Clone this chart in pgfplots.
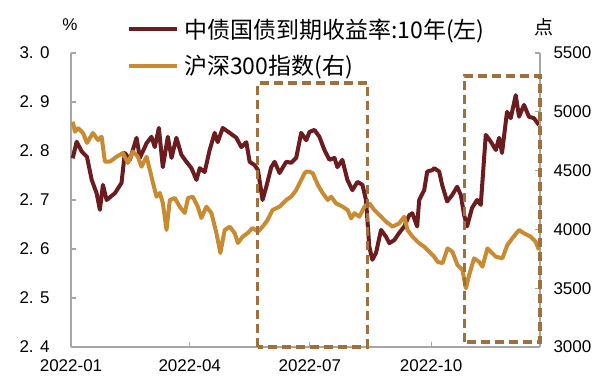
\documentclass[border=0pt]{standalone}
\usepackage{fontspec}
\setmainfont{Liberation Sans}
\newfontfamily\cjk{Noto Sans CJK SC}
\usepackage{pgfplots}
\usepackage{pgfplotstable}
\pgfplotsset{compat=1.18}
\definecolor{bondred}{HTML}{6B1C1E}
\definecolor{csiorange}{HTML}{C98B32}
\definecolor{boxbrown}{HTML}{A0703C}
\definecolor{axisgrey}{HTML}{A6A6A6}

\pgfplotstableread{
day yld
1.3 2.785
4.3 2.819
8.1 2.799
12.1 2.788
15.7 2.741
19.4 2.714
21.9 2.680
24.2 2.731
27.0 2.700
33.3 2.714
38.3 2.735
40.8 2.796
44.6 2.782
49.7 2.827
52.2 2.786
57.3 2.816
61.0 2.829
63.5 2.808
66.6 2.847
69.6 2.767
73.4 2.829
76.2 2.786
79.9 2.827
83.7 2.792
87.5 2.778
91.3 2.765
95.1 2.741
97.6 2.765
101.3 2.757
105.1 2.802
108.9 2.837
111.2 2.818
115.0 2.847
120.3 2.837
125.3 2.827
129.1 2.808
132.9 2.818
135.4 2.778
139.2 2.771
141.7 2.761
145.2 2.700
148.0 2.727
151.8 2.767
154.3 2.778
158.1 2.755
163.1 2.778
166.9 2.776
170.7 2.786
174.5 2.837
178.3 2.822
180.8 2.839
184.5 2.843
188.3 2.829
192.1 2.802
195.9 2.782
199.7 2.786
201.9 2.767
205.7 2.782
209.5 2.741
213.3 2.720
217.1 2.737
220.9 2.731
223.6 2.700
226.1 2.605
228.4 2.578
231.2 2.592
235.0 2.639
238.8 2.625
241.3 2.612
245.0 2.618
248.8 2.633
252.6 2.646
256.4 2.669
258.7 2.673
262.4 2.646
263.9 2.700
267.7 2.720
270.0 2.758
273.8 2.761
275.3 2.765
279.1 2.758
281.3 2.731
285.1 2.697
288.9 2.710
292.7 2.727
295.5 2.710
298.0 2.669
300.2 2.646
304.0 2.684
307.8 2.700
310.6 2.690
314.4 2.833
318.2 2.819
322.0 2.802
324.5 2.827
326.7 2.796
330.5 2.880
333.3 2.867
337.1 2.914
339.6 2.870
343.4 2.894
347.1 2.870
350.9 2.867
354.7 2.853
}\yieldtable

\pgfplotstableread{
day csi
1.3 4916
3.0 4831
5.5 4860
9.1 4820
12.1 4735
16.6 4820
20.4 4760
23.2 4788
25.7 4576
29.5 4576
34.6 4618
39.3 4650
43.1 4565
46.9 4661
50.7 4618
53.4 4533
57.3 4618
61.0 4448
64.8 4278
67.3 4310
69.6 4225
72.4 3995
74.9 4250
78.7 4267
82.4 4193
86.2 4140
88.7 4267
92.3 4278
96.1 4193
98.8 4097
102.6 4193
106.4 4140
110.2 3969
113.2 3799
116.5 3995
120.3 4023
124.0 3969
126.5 3884
130.1 3938
133.9 3969
137.6 4012
141.7 3981
145.2 4023
149.0 4080
152.8 4165
158.1 4193
163.1 4250
166.9 4278
170.7 4335
174.5 4420
177.0 4477
178.3 4491
180.8 4491
183.3 4477
187.1 4378
190.9 4307
194.6 4250
197.2 4278
200.9 4222
205.9 4193
209.7 4165
212.3 4094
214.8 4137
218.6 4108
222.4 4193
226.1 4222
229.9 4165
233.7 4123
238.8 4066
243.8 4023
248.8 4052
252.6 4108
255.1 3995
258.9 3938
263.9 3882
267.7 3853
271.5 3810
275.3 3768
277.8 3725
281.6 3712
285.4 3839
289.1 3810
292.9 3697
296.7 3655
299.3 3499
301.8 3612
305.5 3754
309.3 3725
311.9 3683
315.6 3839
318.2 3810
322.0 3768
327.0 3754
330.7 3867
334.5 3924
339.6 3995
343.4 3967
348.5 3938
352.2 3895
354.7 3825
}\csitable

\pgfplotsset{
  base/.style={
    scale only axis, width=469pt, height=294pt,
    xmin=0, xmax=355.5, clip=false,
    axis line style={axisgrey, line width=1.2pt},
    tick style={axisgrey, line width=1.2pt},
    major tick length=5pt, tick align=inside,
    ticklabel style={font=\fontsize{17}{20}\selectfont},
  }
}

\begin{document}
\begin{tikzpicture}
\path[use as bounding box] (-71pt,-41pt) rectangle (533pt,347pt);
\begin{axis}[base,
  ymin=2.4, ymax=3.0,
  axis y line*=left, axis x line*=bottom,
  ytick={2.4,2.5,2.6,2.7,2.8,2.9,3.0},
  yticklabels={2. 4,2. 5,2. 6,2. 7,2. 8,2. 9,3. 0},
  yticklabel style={xshift=-18pt},
  xtick={0,90,181,273},
  xticklabels={2022-01,2022-04,2022-07,2022-10},
  xticklabel style={yshift=-9pt},
]
\addplot[bondred, line width=4pt, line join=round] table[x=day,y=yld] {\yieldtable};
\node[font=\fontsize{17}{20}\selectfont] at (rel axis cs:0,1) [xshift=-1pt, yshift=28pt] {\%};
\node[font=\cjk\fontsize{19}{22}\selectfont] at (rel axis cs:1,1) [xshift=4pt, yshift=26pt] {点};
\end{axis}
\begin{axis}[base,
  ymin=3000, ymax=5500,
  axis y line*=right, axis x line=none,
  ytick={3000,3500,4000,4500,5000,5500},
  yticklabels={3000,3500,4000,4500,5000,5500},
  yticklabel style={xshift=10pt},
  legend style={at={(0.1194,1.0187)}, anchor=west, draw=none, fill=none,
    inner sep=0pt, row sep=16pt, column sep=5pt,
    font=\cjk\fontsize{23}{26}\selectfont,
    nodes={inner sep=0pt}},
  legend cell align=left,
  legend image code/.code={\draw[#1] (0pt,0pt) -- (48pt,0pt);},
]
\addlegendimage{bondred, line width=4pt}
\addlegendentry{中债国债到期收益率:10年(左)}
\addplot[csiorange, line width=4pt, line join=round] table[x=day,y=csi] {\csitable};
\addlegendentry{沪深300指数(右)}
\draw[boxbrown, line width=3.3pt, dash pattern=on 9pt off 5pt] (axis cs:141.5,3000) rectangle (axis cs:224.7,5246);
\draw[boxbrown, line width=3.3pt, dash pattern=on 9pt off 5pt] (axis cs:298,3042) rectangle (axis cs:355.5,5304);
\end{axis}
\end{tikzpicture}
\end{document}
